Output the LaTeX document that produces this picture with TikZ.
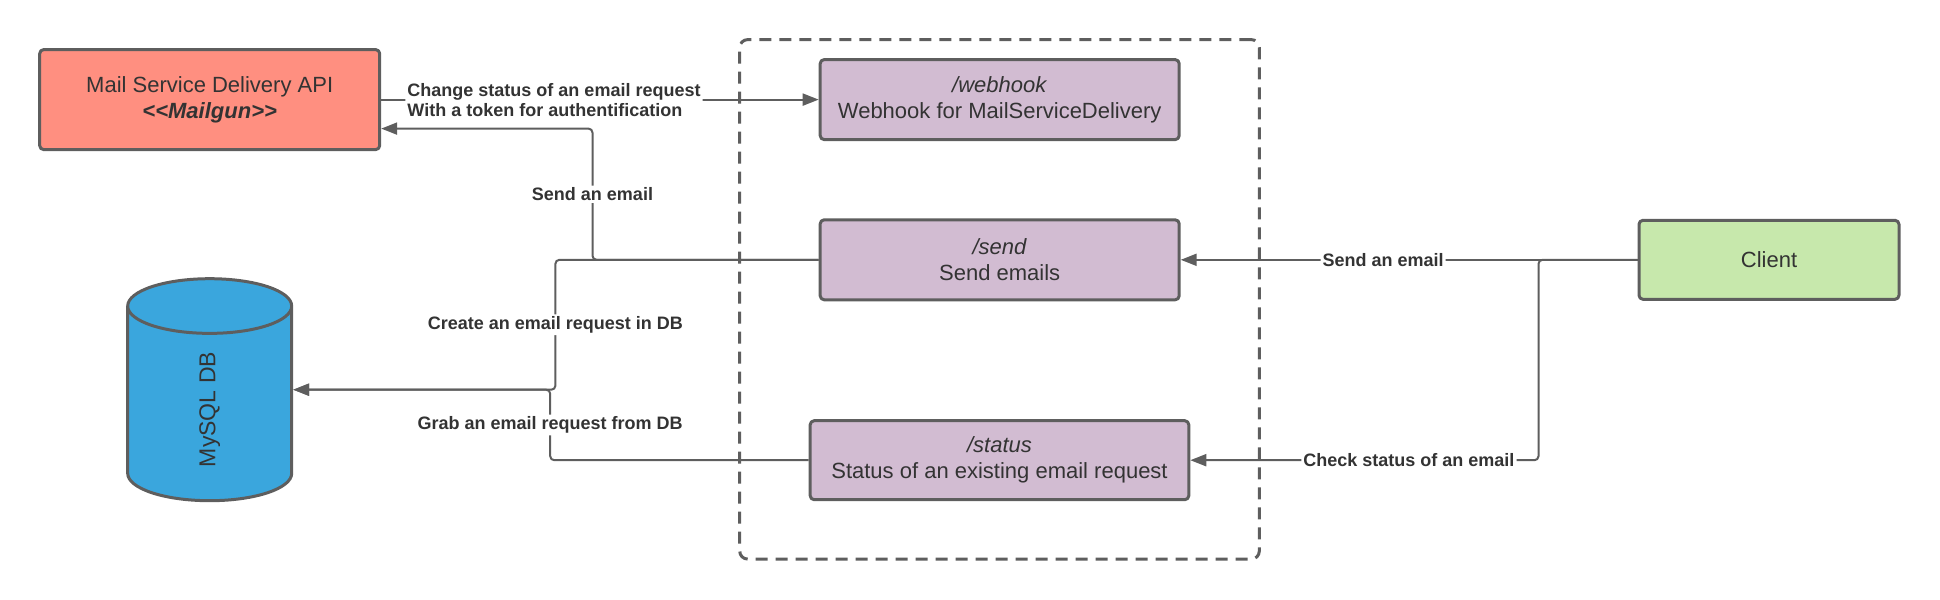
\documentclass[tikz,border=0pt]{standalone}
\usepackage{fontspec}
\setmainfont{Liberation Sans}
\usetikzlibrary{arrows.meta}
\usetikzlibrary{shapes.geometric}
\usetikzlibrary{calc}
\definecolor{edge}{HTML}{5E5E5E}
\definecolor{ink}{HTML}{333333}
\definecolor{salmon}{HTML}{FF8F80}
\definecolor{lilac}{HTML}{D2BCD2}
\definecolor{mint}{HTML}{C7E8AC}
\definecolor{sky}{HTML}{3AA6DD}
\tikzset{box/.style={draw=edge, line width=1.5pt, rounded corners=2pt, text=ink, align=center, font=\fontsize{11}{13}\selectfont}}
\tikzset{l/.style={font=\bfseries\fontsize{9}{10}\selectfont, text=ink, fill=white, inner sep=1pt}}
\tikzset{link/.style={draw=edge, line width=1pt, rounded corners=2pt, -{Triangle[length=8pt,width=6pt]}}}

\begin{document}
\begin{tikzpicture}[x=0.5pt, y=-0.5pt, line join=round]
  \useasboundingbox (0,0) rectangle (1940,600);
  \node[draw=edge, line width=1.5pt, dash pattern=on 6pt off 4pt, rounded corners=4pt, minimum width=259.8pt, minimum height=259.75pt] (api) at (999.5,299.35) {};
  \node[box, fill=salmon, minimum width=170pt, minimum height=50pt] (mail) at (209.7,99.6) {Mail Service Delivery API\\\textbf{\itshape <\kern0pt<Mailgun>\kern0pt>}};
  \node[box, fill=lilac, minimum width=179.5pt, minimum height=40pt] (webhook) at (999.7,99.6) {\textit{/webhook}\\Webhook for MailServiceDelivery};
  \node[box, fill=lilac, minimum width=179.5pt, minimum height=40pt] (send) at (999.7,259.8) {\textit{/send}\\Send emails};
  \node[box, fill=lilac, minimum width=189.3pt, minimum height=39.5pt] (status) at (999.5,460.2) {\textit{/status}\\Status of an existing email request};
  \node[box, fill=mint, minimum width=130pt, minimum height=39.5pt] (client) at (1769,259.8) {Client};
  \node[cylinder, draw=edge, line width=1.5pt, fill=sky, rotate=90, anchor=shape center, aspect=1.6, minimum width=82pt, minimum height=111pt, text=ink, font=\fontsize{11.5}{13}\selectfont] (db) at (209.7,389.7) {MySQL DB};
  % calls between the services
  \draw[link] (mail.east) -- node[l, pos=0.395, align=left] {Change status of an email request\\With a token for authentification} (webhook.west);
  \draw[link] (send.west) -- ++(-226.2,0) |- node[l, pos=0.25] {Send an email} ($(mail.east)+(0,29)$);
  \draw[link] (send.west) -- ++(-263.3,0) |- node[l, pos=0.25] {Create an email request in DB} (db.south |- db.shape center);
  \draw[link] (status.west) -- ++(-258.5,0) |- node[l, pos=0.25] {Grab an email request from DB} (db.south |- db.shape center);
  \draw[link] (client.west) -- node[l, pos=0.557] {Send an email} (send.east);
  \draw[link] (client.west) -- ++(-99,0) |- node[l, pos=0.686] {Check status of an email} (status.east);
\end{tikzpicture}
\end{document}
